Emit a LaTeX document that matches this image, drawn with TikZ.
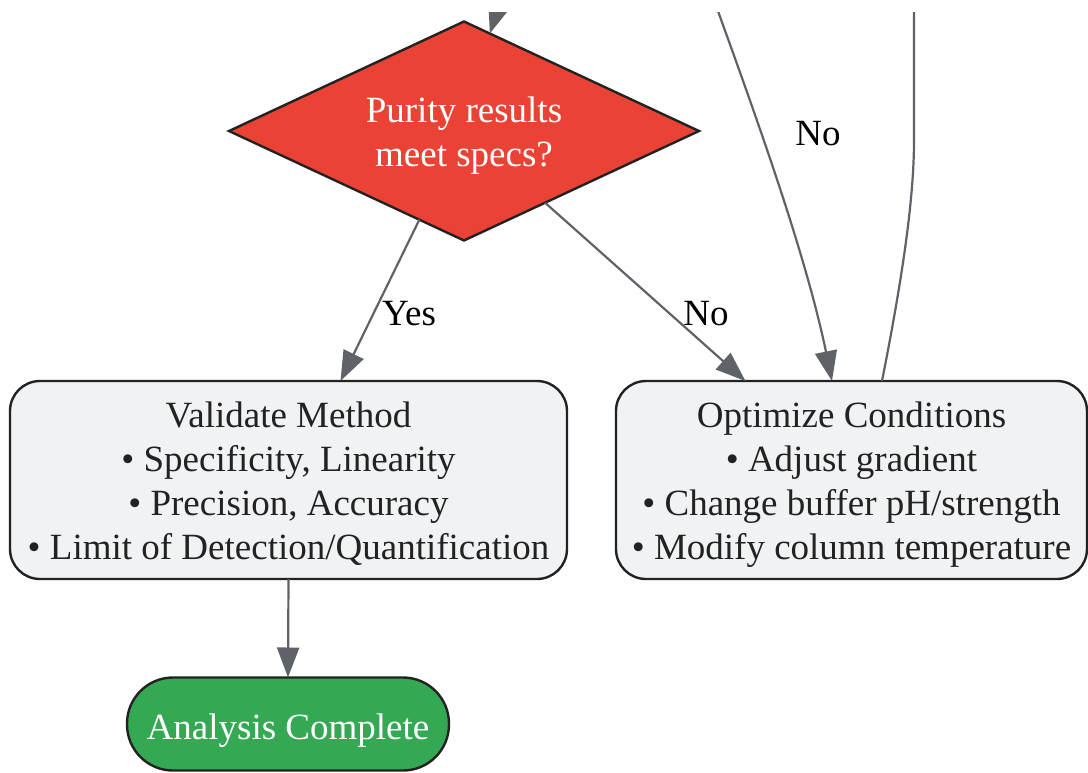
\documentclass[tikz,border=0pt]{standalone}
\usepackage{fontspec}
\setmainfont{Liberation Serif}
\usetikzlibrary{shapes.geometric,arrows.meta,calc}
\definecolor{dred}{HTML}{EA4335}
\definecolor{boxfill}{HTML}{F1F2F4}
\definecolor{edgec}{HTML}{5F6368}
\definecolor{okgreen}{HTML}{34A853}
\definecolor{strokec}{HTML}{222222}
\definecolor{textc}{HTML}{222222}
\newcommand\mlines[1]{\begin{tabular}{@{}c@{}}\rule{0pt}{41pt}#1\end{tabular}}
\tikzset{
  base/.style={font=\fontsize{37}{44}\selectfont, draw=strokec, line width=2.4pt, inner sep=0pt, outer sep=0pt},
  decision/.style={base, diamond, fill=dred, text=white, minimum width=470pt, minimum height=219pt, aspect=2.146},
  procbox/.style={base, rectangle, rounded corners=30pt, fill=boxfill, text=textc, minimum height=198pt},
  endbox/.style={base, rectangle, rounded corners=46pt, fill=okgreen, text=white, minimum width=322pt, minimum height=93pt, execute at begin node={\rule{0pt}{38pt}}},
  flow/.style={draw=edgec, line width=2.2pt, -{Triangle[length=30pt,width=22pt]}},
  plainedge/.style={draw=edgec, line width=2.2pt},
  elabel/.style={font=\fontsize{37}{44}\selectfont, text=black, inner sep=0pt}
}
\begin{document}
\begin{tikzpicture}[x=1pt,y=-1pt]
\useasboundingbox (0,0) rectangle (1088,772);
\clip (-10,12) rectangle (1100,780);
\node[decision] (d) at (464,131) {\mlines{Purity results\\meet specs?}};
\node[procbox, minimum width=557pt] (v) at (288.5,480) {\mlines{Validate Method\\• Specificity, Linearity\\• Precision, Accuracy\\• Limit of Detection/Quantification}};
\node[procbox, minimum width=471pt] (o) at (851.5,480) {\mlines{Optimize Conditions\\• Adjust gradient\\• Change buffer pH/strength\\• Modify column temperature}};
\node[endbox] (a) at (288,724) {Analysis Complete};
\coordinate (top1) at (502,-4);
\coordinate (top2) at (714,0);
\coordinate (top3) at (914,0);
\draw[flow] (top1) -- ($(d.north)!0.11!(d.east)$);
\draw[flow] ($(d.west)!0.81!(d.south)$) -- ([xshift=52pt]v.north);
\draw[flow] ($(d.east)!0.655!(d.south)$) -- ([xshift=-106pt]o.north);
\draw[flow] (top2) .. controls (750,100) and (805,250) .. ([xshift=-19.5pt]o.north);
\draw[plainedge] ([xshift=30.5pt]o.north) .. controls (906,260) and (914,190) .. (914,140) -- (top3);
\draw[flow] (v.south) -- (a.north);
\node[elabel] (lyes) at (409,314) {Yes};
\node[elabel] (lno1) at (706,314) {No};
\node[elabel] (lno2) at (818,134) {No};
\end{tikzpicture}
\end{document}
